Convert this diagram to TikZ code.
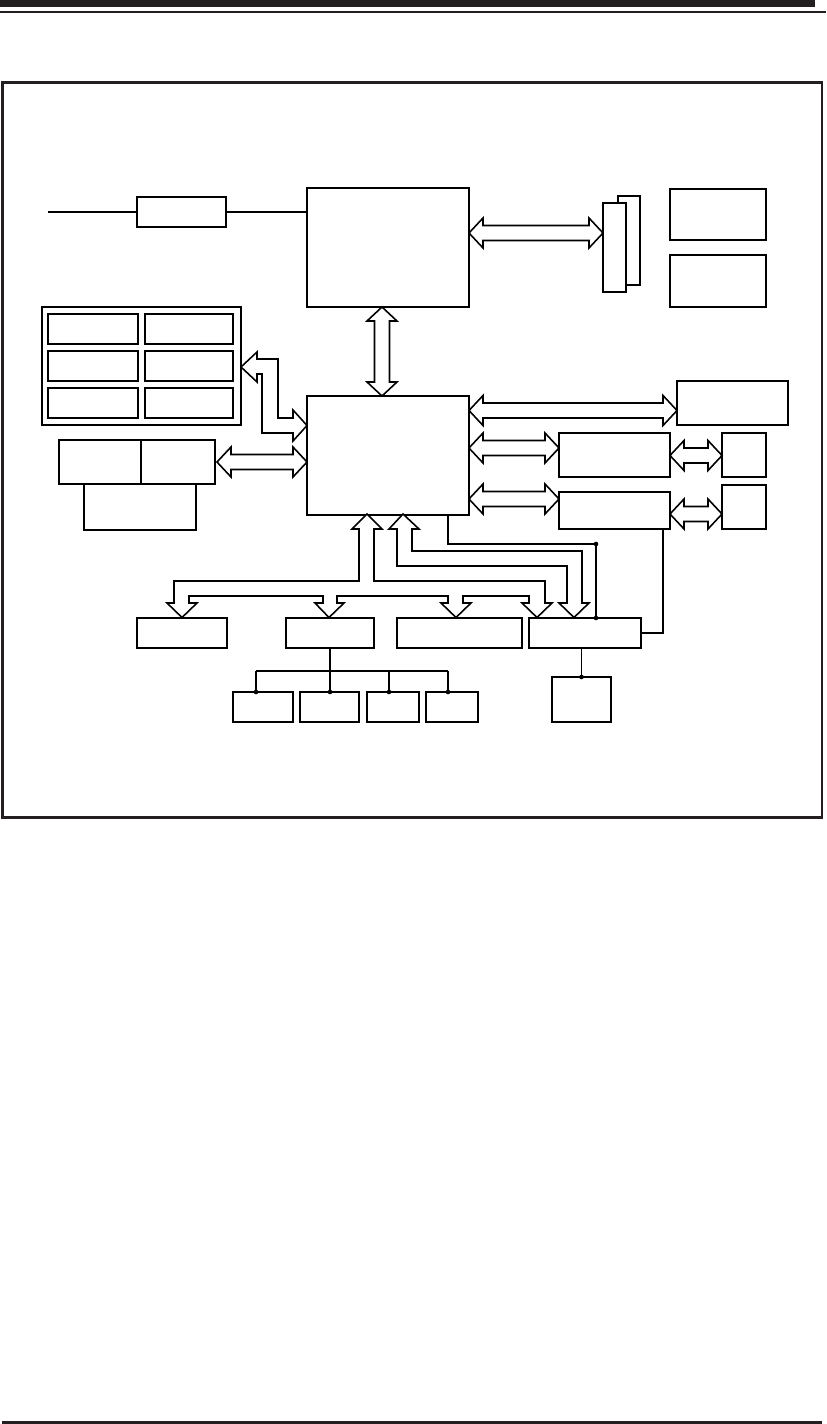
\documentclass[tikz,border=0pt]{standalone}
\usepackage{tikz}
\usetikzlibrary{fit}
\definecolor{ink}{RGB}{35,31,32}

\tikzset{
  blk/.style={draw=black, line width=0.45pt, inner sep=0pt, outer sep=0pt, fill=white},
  fat/.style={draw=black, fill=white, line width=0.45pt, line join=miter},
  wire/.style={line width=0.4pt},
  bus/.style={line width=0.8pt},
  dot/.style={circle, fill=black, inner sep=0pt, minimum size=1.3pt},
}

% fat double arrows (x1, x2, centre y) and (centre x, y1, y2)
\newcommand{\harr}[3]{%
  \draw[fat] (#1,#3) -- ({#1+14},{#3-15}) -- ({#1+14},{#3-7.5}) -- ({#2-14},{#3-7.5})
    -- ({#2-14},{#3-15}) -- (#2,#3) -- ({#2-14},{#3+15}) -- ({#2-14},{#3+7.5})
    -- ({#1+14},{#3+7.5}) -- ({#1+14},{#3+15}) -- cycle;}
\newcommand{\varr}[3]{%
  \draw[fat] (#1,#2) -- ({#1-15},{#2+14}) -- ({#1-7.5},{#2+14}) -- ({#1-7.5},{#3-14})
    -- ({#1-15},{#3-14}) -- (#1,#3) -- ({#1+15},{#3-14}) -- ({#1+7.5},{#3-14})
    -- ({#1+7.5},{#2+14}) -- ({#1+15},{#2+14}) -- cycle;}

\begin{document}
\begin{tikzpicture}[x=0.01cm, y=-0.01cm]
    \useasboundingbox (0,0) rectangle (826,1424);

    % Page rules
    \fill[ink] (0,0) rectangle (815,7);
    \fill[ink] (0,11) rectangle (826,13);
    \fill[ink] (2,1420.5) rectangle (822,1423.5);

    % Frame
    \draw[ink, line width=0.7pt] (2.5,82.5) rectangle (822,817.5);

    % Processor and its neighbours
    \node[blk, fit={(137,197) (226,227)}] (vrm) {};
    \node[blk, fit={(307,188) (469,307)}] (cpu) {};
    \node[blk, fit={(618,196) (640,285)}] (slotB) {};
    \node[blk, fit={(603,203) (626,292)}] (slotF) {};
    \node[blk, fit={(670,189) (766,240)}] (rtA) {};
    \node[blk, fit={(670,255) (766,307)}] (rtB) {};

    \coordinate (feed) at (48,212);
    \draw[wire] (feed) -- (vrm.west);
    \draw[wire] (vrm.east) -- (vrm.east -| cpu.west);

    % Memory modules
    \node[blk, fit={(42,307) (241,425)}] (dimm) {};
    \foreach \ya/\yb [count=\r] in {314/344, 351/381, 388/418} {
        \node[blk, fit={(48,\ya) (138,\yb)}] (dimmL\r) {};
        \node[blk, fit={(145,\ya) (233,\yb)}] (dimmR\r) {};
    }

    % Graphics pair
    \node[blk, fit={(59,440) (141,484)}] (gfxL) {};
    \node[blk, fit={(141,440) (215,484)}] (gfxR) {};
    \node[blk, fit={(84,484) (196,530)}] (gfxB) {};

    % Memory controller hub
    \node[blk, fit={(307,396) (469,515)}] (mch) {};

    % Right column
    \node[blk, fit={(677,381) (788,425)}] (agp) {};
    \node[blk, fit={(559,433) (670,477)}] (lanA) {};
    \node[blk, fit={(722,433) (766,477)}] (jackA) {};
    \node[blk, fit={(559,492) (670,529)}] (lanB) {};
    \node[blk, fit={(722,485) (766,529)}] (jackB) {};

    % Bottom row
    \node[blk, fit={(137,618) (227,648)}] (pciA) {};
    \node[blk, fit={(286,618) (374,648)}] (pciB) {};
    \node[blk, fit={(397,618) (522,648)}] (pciC) {};
    \node[blk, fit={(529,618) (641,648)}] (ich) {};

    % Devices below
    \node[blk, fit={(233,692) (293,722)}] (devA) {};
    \node[blk, fit={(300,692) (359,722)}] (devB) {};
    \node[blk, fit={(367,692) (419,722)}] (devC) {};
    \node[blk, fit={(426,692) (478,722)}] (devD) {};
    \node[blk, fit={(552,677) (611,722)}] (sio) {};

    % Fat arrows
    \varr{382}{307}{396}
    \harr{469}{603}{233}
    \harr{217}{307}{462}
    \harr{469}{677}{410.5}
    \harr{469}{559}{448}
    \harr{670}{722}{455.5}
    \harr{469}{559}{499}
    \harr{670}{722}{514}

    % Bent arrow to memory
    \draw[fat] (241,367) -- (257,352) -- (257,359) -- (278,359) -- (278,418) -- (293,418)
        -- (293,410) -- (307,425.5) -- (293,441) -- (293,433) -- (262,433) -- (262,374)
        -- (257,374) -- (257,382) -- cycle;

    % PCI bus
    \draw[fat] (367,514) -- (382,529) -- (374,529) -- (374,581) -- (545,581) -- (545,603)
        -- (552,603) -- (537,617.5) -- (522,603) -- (529,603) -- (529,596) -- (463,596)
        -- (463,603) -- (471,603) -- (456,617.5) -- (441,603) -- (448,603) -- (448,596)
        -- (337,596) -- (337,603) -- (344,603) -- (329,617.5) -- (315,603) -- (323,603)
        -- (323,596) -- (189,596) -- (189,603) -- (197,603) -- (182,617.5) -- (167,603)
        -- (174,603) -- (174,581) -- (359,581) -- (359,529) -- (352,529) -- cycle;

    % Hub link
    \draw[fat] (403,514) -- (419,529) -- (412,529) -- (412,551) -- (582,551) -- (582,603)
        -- (589,603) -- (574,617.5) -- (559,603) -- (567,603) -- (567,566) -- (397,566)
        -- (397,529) -- (389,529) -- cycle;

    % Thin links
    \coordinate (tap) at (596,544);
    \draw[wire] (448,515) -- (448,544) -- (tap) -- (tap |- ich.north) node[dot] {};
    \node[dot] at (tap) {};
    \draw[bus] (lanB.south east) ++(-7,0) |- (ich.east);
    \draw[wire] (sio.north |- ich.south) -- (sio.north) node[dot] {};

    % Device bus
    \coordinate (hub) at (330,671);
    \draw[bus] (pciB.south) -- (hub);
    \draw[bus] (256,671) -- (448,671);
    \draw[bus] (256,671) -- (256,0 |- devA.north) node[dot] {};
    \draw[bus] (hub) -- (330,0 |- devB.north) node[dot] {};
    \draw[wire] (389,671) -- (389,0 |- devC.north) node[dot] {};
    \draw[wire] (448,671) -- (448,0 |- devD.north) node[dot] {};
\end{tikzpicture}
\end{document}
